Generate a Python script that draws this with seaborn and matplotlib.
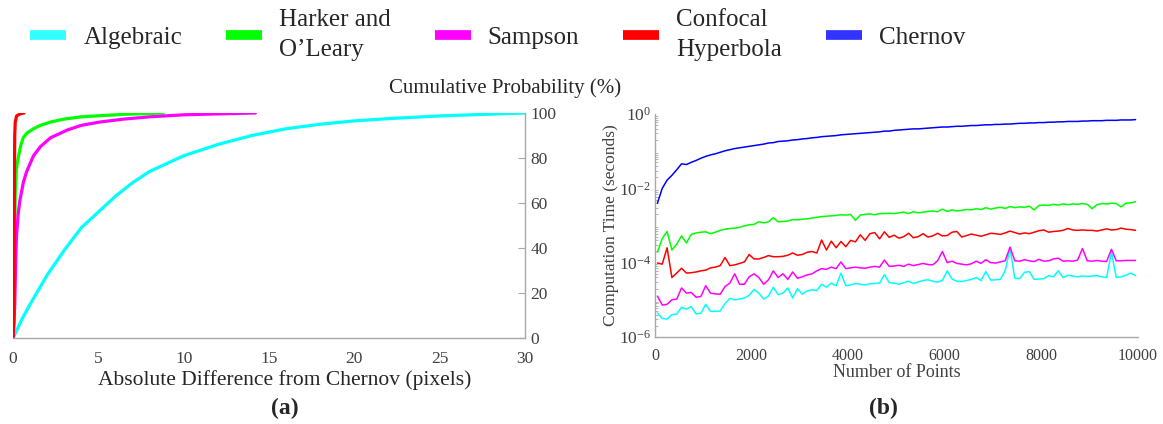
import numpy as np
import pandas as pd
import matplotlib.pyplot as plt
import seaborn as sns
from matplotlib.lines import Line2D
from matplotlib.ticker import FixedLocator, FixedFormatter, LogLocator, NullFormatter

# nomes dos metodos e cores
metodos = ['Algebraic', 'Harker and\nO’Leary', 'Sampson', 'Confocal\nHyperbola', 'Chernov']
cores = ['#00FFFF', '#00FF00', '#FF00FF', '#FF0000', '#0000FF']
cores_legenda = ['#33FFFF', '#00FF00', '#FF00FF', '#FF0000', '#3333FF']

# (a) distribuicao acumulada da diferenca para Chernov
alg_diff = [0, 0.5, 1, 2, 3, 4, 5, 6, 7, 8, 10, 12, 14, 16, 18, 20, 22, 25, 28, 30]
alg_cdf = [0, 8, 15, 28, 39, 49, 56, 63, 69, 74, 81, 86, 90, 93, 95, 96.5, 97.5, 98.7, 99.5, 100]

hk_diff = [0, 0.05, 0.1, 0.13, 0.2, 0.3, 0.45, 0.6, 0.8, 1.2, 1.6, 2.2, 3.0, 4.0, 5.1, 6.5, 8.8]
hk_cdf = [0, 10, 45, 65, 75, 80, 85.5, 89, 91, 93, 94.5, 96, 97.3, 98.3, 98.8, 99.4, 100]

sp_diff = [0, 0.05, 0.1, 0.15, 0.2, 0.3, 0.4, 0.6, 0.8, 1.2, 1.6, 2.2, 3.2, 4.0, 5.1, 6.5, 8.0, 10.0, 12.0, 14.2]
sp_cdf = [0, 5, 15, 32, 45, 55, 61, 69, 74, 81, 85, 89, 92.5, 94.5, 96, 97.3, 98.3, 99.2, 99.6, 100]

cf_diff = [0, 0.05, 0.08, 0.1, 0.13, 0.21, 0.41, 0.64]
cf_cdf = [0, 10, 70, 90, 96, 98.7, 99.6, 100]

# (b) tempo de computacao (expoentes log10 dos segundos)
n_pontos = np.arange(50, 10000, 100)

chernov_log = [-2.40, -2.00, -1.78, -1.65, -1.50, -1.34, -1.36, -1.30, -1.25, -1.19,
               -1.14, -1.10, -1.07, -1.03, -0.99, -0.96, -0.93, -0.91, -0.89, -0.87,
               -0.85, -0.83, -0.81, -0.78, -0.77, -0.74, -0.73, -0.72, -0.70, -0.69,
               -0.67, -0.66, -0.64, -0.63, -0.61, -0.60, -0.59, -0.58, -0.56, -0.55,
               -0.54, -0.53, -0.52, -0.51, -0.50, -0.49, -0.48, -0.46, -0.46, -0.44,
               -0.43, -0.42, -0.41, -0.40, -0.40, -0.39, -0.38, -0.37, -0.36, -0.35,
               -0.35, -0.34, -0.33, -0.33, -0.32, -0.31, -0.31, -0.30, -0.29, -0.29,
               -0.28, -0.28, -0.27, -0.27, -0.26, -0.25, -0.25, -0.24, -0.24, -0.23,
               -0.23, -0.22, -0.22, -0.21, -0.21, -0.20, -0.20, -0.20, -0.19, -0.19,
               -0.18, -0.18, -0.18, -0.17, -0.17, -0.17, -0.16, -0.16, -0.16, -0.15]

harker_log = [-3.72, -3.35, -3.16, -3.66, -3.50, -3.28, -3.47, -3.24, -3.20, -3.18,
              -3.17, -3.22, -3.18, -3.13, -3.10, -3.08, -3.07, -3.05, -3.01, -2.98,
              -2.97, -2.90, -2.93, -2.90, -2.79, -2.90, -2.89, -2.88, -2.84, -2.85,
              -2.83, -2.82, -2.80, -2.78, -2.76, -2.75, -2.74, -2.73, -2.71, -2.72,
              -2.70, -2.86, -2.72, -2.70, -2.69, -2.71, -2.68, -2.68, -2.67, -2.68,
              -2.66, -2.64, -2.68, -2.63, -2.66, -2.64, -2.62, -2.61, -2.63, -2.56,
              -2.62, -2.58, -2.61, -2.59, -2.57, -2.58, -2.55, -2.57, -2.52, -2.56,
              -2.53, -2.51, -2.54, -2.49, -2.52, -2.50, -2.51, -2.48, -2.58, -2.46,
              -2.45, -2.46, -2.43, -2.45, -2.42, -2.44, -2.42, -2.43, -2.41, -2.43,
              -2.55, -2.44, -2.41, -2.42, -2.40, -2.41, -2.50, -2.40, -2.39, -2.36]

confocal_log = [-4.01, -4.04, -3.60, -4.40, -4.28, -4.15, -4.28, -4.27, -4.25, -4.22,
                -4.20, -4.14, -4.12, -4.08, -3.86, -4.08, -4.06, -4.02, -3.98, -3.78,
                -3.90, -3.90, -3.86, -3.81, -3.84, -3.84, -3.83, -3.80, -3.74, -3.80,
                -3.78, -3.72, -3.70, -3.74, -3.39, -3.66, -3.42, -3.60, -3.43, -3.57,
                -3.40, -3.44, -3.25, -3.40, -3.22, -3.19, -3.36, -3.17, -3.32, -3.26,
                -3.34, -3.30, -3.21, -3.33, -3.30, -3.22, -3.31, -3.28, -3.21, -3.28,
                -3.27, -3.18, -3.16, -3.31, -3.27, -3.23, -3.26, -3.29, -3.25, -3.21,
                -3.22, -3.24, -3.20, -3.15, -3.19, -3.23, -3.20, -3.22, -3.18, -3.14,
                -3.12, -3.18, -3.16, -3.15, -3.13, -3.08, -3.12, -3.13, -3.12, -3.13,
                -3.13, -3.15, -3.12, -3.09, -3.12, -3.11, -3.07, -3.10, -3.11, -3.13]

sampson_log = [-4.90, -5.14, -5.12, -5.00, -4.98, -4.68, -4.82, -4.80, -4.93, -4.91,
               -4.62, -4.82, -4.84, -4.85, -4.64, -4.55, -4.30, -4.58, -4.58, -4.38,
               -4.30, -4.40, -4.58, -4.46, -4.22, -4.40, -4.30, -4.45, -4.25, -4.42,
               -4.38, -4.33, -4.30, -4.22, -4.16, -4.18, -4.12, -4.16, -3.98, -4.16,
               -4.14, -4.12, -4.14, -4.15, -4.12, -4.10, -4.12, -3.93, -4.10, -4.09,
               -4.07, -4.10, -4.04, -4.08, -4.05, -4.02, -4.05, -4.06, -3.95, -3.70,
               -4.00, -3.96, -4.02, -4.04, -4.06, -4.03, -3.96, -4.02, -3.92, -4.00,
               -4.01, -3.98, -3.95, -3.58, -3.95, -3.96, -3.92, -3.95, -3.97, -3.91,
               -3.96, -3.95, -3.90, -3.88, -3.96, -3.95, -3.96, -3.93, -3.62, -3.95,
               -3.96, -3.94, -3.96, -3.97, -3.64, -3.95, -3.95, -3.94, -3.94, -3.94]

algebraic_log = [-5.35, -5.50, -5.52, -5.40, -5.38, -5.20, -5.25, -5.18, -5.38, -5.36,
                 -5.12, -5.31, -5.31, -5.30, -5.10, -4.96, -5.00, -4.98, -4.95, -4.88,
                 -4.72, -4.82, -4.98, -4.90, -4.66, -4.86, -4.82, -4.68, -4.95, -4.70,
                 -4.85, -4.76, -4.73, -4.75, -4.58, -4.66, -4.55, -4.62, -4.28, -4.62,
                 -4.60, -4.56, -4.58, -4.60, -4.57, -4.56, -4.55, -4.32, -4.54, -4.55,
                 -4.58, -4.54, -4.50, -4.56, -4.52, -4.48, -4.46, -4.50, -4.52, -4.48,
                 -4.22, -4.44, -4.50, -4.51, -4.48, -4.45, -4.40, -4.48, -4.24, -4.47,
                 -4.46, -4.45, -4.22, -3.62, -4.42, -4.43, -4.26, -4.24, -4.45, -4.44,
                 -4.43, -4.35, -4.38, -4.22, -4.40, -4.34, -4.36, -4.38, -4.36, -4.37,
                 -4.36, -4.35, -4.38, -4.40, -3.72, -4.40, -4.38, -4.34, -4.28, -4.35]


# montar tabelas longas para o seaborn
df_a = pd.concat([
    pd.DataFrame({'diff': d, 'cdf': c, 'metodo': m})
    for d, c, m in [(alg_diff, alg_cdf, metodos[0]), (hk_diff, hk_cdf, metodos[1]),
                    (sp_diff, sp_cdf, metodos[2]), (cf_diff, cf_cdf, metodos[3])]
], ignore_index=True)

series_b = [algebraic_log, harker_log, sampson_log, confocal_log, chernov_log]
df_b = pd.concat([
    pd.DataFrame({'n': n_pontos, 'tempo': np.power(10.0, s), 'metodo': m})
    for s, m in zip(series_b, metodos)
], ignore_index=True)

sns.set_theme(style='white')
plt.rcParams['font.family'] = ['Liberation Serif', 'DejaVu Serif']
plt.rcParams['mathtext.fontset'] = 'custom'
plt.rcParams['mathtext.rm'] = 'Liberation Serif'

paleta = dict(zip(metodos, cores))
cinza = '#A8A8A8'
cor_txt = '#404040'

fig = plt.figure(figsize=(11.63, 4.24), dpi=100)
ax1 = fig.add_axes([0.0112, 0.2028, 0.4402, 0.5307])
ax2 = fig.add_axes([0.5632, 0.2052, 0.4153, 0.5259])

# painel (a)
sns.lineplot(data=df_a, x='diff', y='cdf', hue='metodo', palette=paleta,
             hue_order=metodos[:4], linewidth=2.3, ax=ax1, legend=False,
             estimator=None, sort=False)
ax1.set_xlim(0, 30)
ax1.set_ylim(0, 100)
ax1.set_xticks([0, 5, 10, 15, 20, 25, 30])
ax1.set_yticks([0, 20, 40, 60, 80, 100])
ax1.yaxis.tick_right()
for s in ['top', 'left']:
    ax1.spines[s].set_visible(False)
for s in ['bottom', 'right']:
    ax1.spines[s].set_color(cinza)
    ax1.spines[s].set_linewidth(1.0)
ax1.tick_params(direction='in', length=5, width=0.8, color=cinza, labelsize=12.5,
                labelcolor=cor_txt)
ax1.tick_params(axis='x', pad=9)
ax1.tick_params(axis='y', pad=4)
ax1.set_xlabel('Absolute Difference from Chernov (pixels)', fontsize=15.5)
ax1.xaxis.set_label_coords(0.531, -0.187)
ax1.xaxis.label.set_va('center')
ax1.set_ylabel('')
fig.text(505 / 1163, 1 - 88 / 424, 'Cumulative Probability (%)', fontsize=15,
         ha='center', va='center')

# painel (b)
sns.lineplot(data=df_b, x='n', y='tempo', hue='metodo', palette=paleta,
             hue_order=metodos, linewidth=1.1, ax=ax2, legend=False, estimator=None)
ax2.set_yscale('log')
ax2.set_xlim(0, 10000)
ax2.set_ylim(1e-6, 1)
ax2.set_xticks([0, 2000, 4000, 6000, 8000, 10000])
ax2.yaxis.set_major_locator(FixedLocator([1e-6, 1e-5, 1e-4, 1e-3, 1e-2, 1e-1, 1]))
ax2.yaxis.set_major_formatter(FixedFormatter([r'$\mathregular{10^{-6}}$', '', r'$\mathregular{10^{-4}}$', '',
                                              r'$\mathregular{10^{-2}}$', '', r'$\mathregular{10^{0}}$']))
ax2.yaxis.set_minor_locator(LogLocator(base=10, subs=np.arange(2, 10), numticks=20))
ax2.yaxis.set_minor_formatter(NullFormatter())
for s in ['top', 'right']:
    ax2.spines[s].set_visible(False)
for s in ['bottom', 'left']:
    ax2.spines[s].set_color(cinza)
    ax2.spines[s].set_linewidth(1.0)
ax2.tick_params(which='major', direction='in', length=5, width=0.8, color=cinza,
                labelsize=11.5, labelcolor=cor_txt)
ax2.tick_params(axis='x', which='major', pad=8)
ax2.tick_params(axis='y', which='major', labelsize=12.5, pad=3)
ax2.tick_params(which='minor', direction='in', length=2.5, width=0.6, color=cinza, left=True)
ax2.set_xlabel('Number of Points', fontsize=13, color=cor_txt)
ax2.xaxis.set_label_coords(0.5, -0.161)
ax2.xaxis.label.set_va('center')
ax2.set_ylabel('Computation Time (seconds)', fontsize=12.5, color=cor_txt)
ax2.yaxis.set_label_coords(-0.092, 0.5)
ax2.yaxis.label.set_va('center')

# rotulos (a) e (b)
fig.text(285 / 1163, 1 - 408 / 424, '(a)', fontsize=17, fontweight='bold', ha='center', va='center')
fig.text(883 / 1163, 1 - 408 / 424, '(b)', fontsize=17, fontweight='bold', ha='center', va='center')

# legenda no topo
handles = [Line2D([], [], color=c, lw=7, solid_capstyle='butt') for c in cores_legenda]
leg = fig.legend(handles, metodos, loc='center left', bbox_to_anchor=(0.0065, 0.917), ncol=5,
                 frameon=False, fontsize=18, handlelength=1.45, handletextpad=0.68,
                 columnspacing=1.75, labelspacing=0.2)
for t in leg.get_texts():
    t.set_linespacing(1.45)

plt.savefig('out.png', dpi=100)
